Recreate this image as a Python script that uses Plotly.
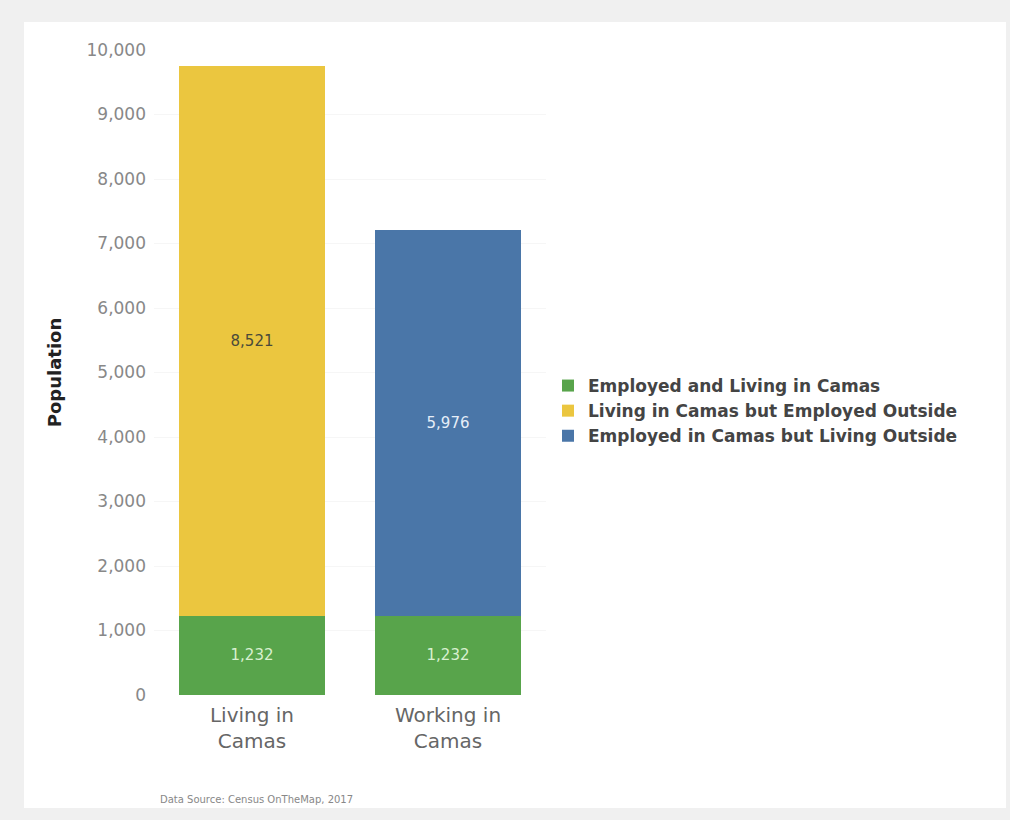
import plotly.graph_objects as go

categories = ["Living in<br>Camas", "Working in<br>Camas"]
employed_living = [1232, 1232]
living_outside = [8521, None]
working_outside = [None, 5976]
series_names = ["Employed and Living in Camas",
                "Living in Camas but Employed Outside",
                "Employed in Camas but Living Outside"]
colors = ["#58a44b", "#ebc63f", "#4a76a8"]
text_colors = ["#d8f0d0", "#4a4a3a", "#e6eef8"]
tick_vals = [0, 1000, 2000, 3000, 4000, 5000, 6000, 7000, 8000, 9000, 10000]
tick_text = ["0", "1,000", "2,000", "3,000", "4,000", "5,000", "6,000",
             "7,000", "8,000", "9,000", "10,000"]

FONT = "DejaVu Sans"
fig = go.Figure()
for vals, name, col, tcol in zip([employed_living, living_outside, working_outside],
                                 series_names, colors, text_colors):
    fig.add_trace(go.Bar(
        x=categories, y=vals, name="<b>" + name + "</b>",
        marker=dict(color=col, line=dict(width=0)),
        texttemplate="%{y:,}", textposition="inside", insidetextanchor="middle",
        textfont=dict(color=tcol, size=15, family=FONT), textangle=0,
    ))

L, R, T, B = 154, 464, 50, 125
W, H = 1010 - L - R, 820 - T - B

fig.update_layout(
    width=1010, height=820,
    margin=dict(l=L, r=R, t=T, b=B, pad=0),
    barmode="stack", bargap=0.255,
    paper_bgcolor="#f0f0f0", plot_bgcolor="white",
    font=dict(family=FONT),
    showlegend=True,
    legend=dict(x=(548 - L) / W, y=(695 - 411) / H, xanchor="left", yanchor="middle",
                traceorder="normal", font=dict(size=17, color="#444", family=FONT),
                bgcolor="rgba(0,0,0,0)", itemclick=False, tracegroupgap=0),
    xaxis=dict(tickfont=dict(size=20, color="#666", family=FONT), showgrid=False,
               showline=False, ticks="", ticklabelstandoff=6),
    yaxis=dict(range=[0, 10000], tickvals=tick_vals, ticktext=tick_text,
               tickfont=dict(size=17, color="#888", family=FONT),
               showgrid=True, gridcolor="#f6f6f6", gridwidth=1, zeroline=False,
               ticks="", ticklabelstandoff=7,
               title=dict(text="<b>Population</b>", font=dict(size=18, color="#222", family=FONT),
                          standoff=20)),
    shapes=[dict(type="rect", xref="paper", yref="paper", layer="below",
                 x0=(24 - L) / W, x1=(1006 - L) / W, y0=(695 - 808) / H, y1=(695 - 22) / H,
                 fillcolor="white", line=dict(width=0))],
    annotations=[dict(text="Data Source: Census OnTheMap, 2017", xref="paper", yref="paper",
                      x=(158 - L) / W, y=(695 - 799) / H, xanchor="left", yanchor="middle",
                      showarrow=False, font=dict(size=10, color="#888", family=FONT))],
)

fig.write_html("out.html", config={"displayModeBar": False},
               post_script="document.body.style.margin='0';document.body.style.overflow='hidden';")
